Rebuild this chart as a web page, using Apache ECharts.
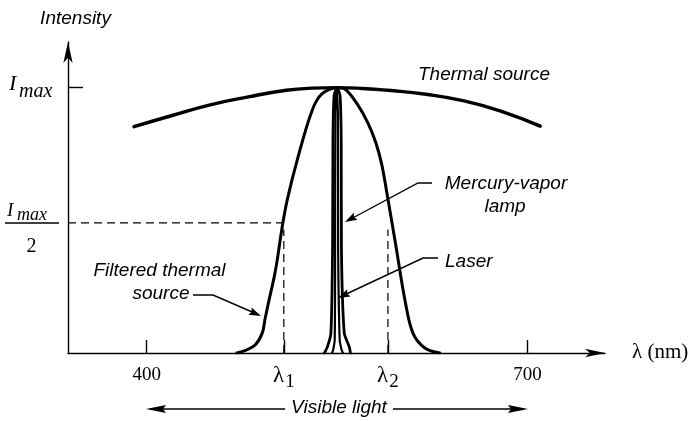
<!DOCTYPE html>
<html><head><meta charset="utf-8">
<script src="https://cdn.jsdelivr.net/npm/echarts@6/dist/echarts.min.js"></script>
<style>html,body{margin:0;padding:0;background:#fff}#c{width:698px;height:421px}</style>
</head><body><div id="c"></div>
<script>
// ---- data (wavelength in nm, intensity as fraction of Imax) ----
const thermalX = [390, 420, 450, 480, 510, 530, 550, 570, 590, 620, 650, 680, 710];
const thermalY = [0.853, 0.895, 0.935, 0.965, 0.99, 0.998, 1.0, 0.997, 0.99, 0.975, 0.95, 0.91, 0.855];

const filteredX = [471, 478, 485.4, 491, 493.3, 496.4, 500.4, 502.8, 506.7, 510.6, 518.5, 530.3, 538.2, 550.5, 556.1, 566.3, 574.2, 580.5, 585.2, 589.2, 596.3, 603.4, 609.7, 619.1, 630.9];
const filteredY = [0, 0.01, 0.03, 0.075, 0.13, 0.2, 0.286, 0.35, 0.474, 0.575, 0.726, 0.914, 0.977, 1.0, 0.995, 0.935, 0.867, 0.792, 0.709, 0.603, 0.403, 0.2, 0.075, 0.019, 0];

const mercuryX = [540, 542.4, 545.1, 546.4, 546.7, 547.6, 549.9, 552.3, 553.2, 553.4, 555.6, 559.5, 560.5];
const mercuryY = [0, 0.024, 0.075, 0.39, 0.8, 0.97, 1.0, 0.97, 0.8, 0.39, 0.075, 0.024, 0];

const laserX = [546, 546.8, 548.1, 548.4, 548.6, 549.6, 550.6, 550.8, 552.0, 553.6, 554.6];
const laserY = [0, 0.01, 0.05, 0.39, 0.9, 1.0, 0.9, 0.39, 0.05, 0.01, 0];

const xTickValues = [400, 508, 590, 700];
const xTickLabels = ['400', 'λ1', 'λ2', '700'];
const lambda1 = 508, lambda2 = 590;
const halfLevel = 0.49, dashTop = 0.465, peakLevel = 1.0;

// ---- chart ----
const chart = echarts.init(document.getElementById('c'), null, {renderer: 'canvas'});
const BLACK = '#000';
const SANS_I = 'italic 19px "Liberation Sans", Arial, sans-serif';

function curve(xs, ys, width, smooth) {
  return {
    type: 'line', data: xs.map((x, i) => [x, ys[i]]), showSymbol: false, symbol: 'none',
    smooth: smooth, silent: true, z: 3,
    lineStyle: {color: BLACK, width: width, cap: 'round', join: 'round'}
  };
}
function dashed(pts) {
  return {
    type: 'line', data: pts, showSymbol: false, symbol: 'none', silent: true, z: 2,
    lineStyle: {color: BLACK, width: 1.2, type: [8, 5]}
  };
}
function head(tip, from, len, hw) {
  const dx = tip[0] - from[0], dy = tip[1] - from[1], d = Math.hypot(dx, dy);
  const ux = dx / d, uy = dy / d;
  const bx = tip[0] - ux * len, by = tip[1] - uy * len;
  const nx = tip[0] - ux * len * 0.85, ny = tip[1] - uy * len * 0.85;
  return {type: 'polygon', z: 100, shape: {points: [tip, [bx - uy * hw, by + ux * hw], [nx, ny], [bx + uy * hw, by - ux * hw]]}, style: {fill: BLACK}};
}
function pline(points) {
  return {type: 'polyline', z: 100, shape: {points: points}, style: {stroke: BLACK, lineWidth: 1.4, fill: null}};
}
function txt(text, x, y, font, align, extra) {
  return {type: 'text', z: 100, style: Object.assign({text: text, x: x, y: y, font: font, fill: BLACK, align: align || 'left', verticalAlign: 'middle'}, extra || {})};
}

const option = {
  backgroundColor: '#fff',
  animation: false,
  grid: {left: 68, top: 42, width: 537, height: 311},
  xAxis: {
    type: 'value', min: 338, max: 761,
    splitLine: {show: false},
    axisLine: {show: true, symbol: ['none', 'arrow'], symbolSize: [6.5, 20], lineStyle: {color: BLACK, width: 1.4}},
    axisTick: {show: true, inside: true, length: 13, customValues: xTickValues, lineStyle: {color: BLACK, width: 1.4}},
    axisLabel: {
      show: true, customValues: xTickValues, margin: 11, color: BLACK,
      formatter: function (v) {
        const i = xTickValues.indexOf(v);
        const t = i >= 0 ? xTickLabels[i] : '';
        if (t.charAt(0) === 'λ') return '{l|λ}{s|' + t.slice(1) + '}';
        return '{n|' + t + '}';
      },
      rich: {
        n: {fontFamily: '"Liberation Serif", serif', fontSize: 19, lineHeight: 20, color: BLACK, verticalAlign: 'top', padding: [2, 0, 0, 0]},
        l: {fontFamily: '"Liberation Serif", serif', fontSize: 23, lineHeight: 22, color: BLACK, verticalAlign: 'top'},
        s: {fontFamily: '"Liberation Serif", serif', fontSize: 19, lineHeight: 20, color: BLACK, verticalAlign: 'top', padding: [9, 0, 0, 1]}
      }
    }
  },
  yAxis: {
    type: 'value', min: 0, max: 1.172,
    splitLine: {show: false},
    axisLine: {show: true, symbol: ['none', 'arrow'], symbolSize: [7, 21], lineStyle: {color: BLACK, width: 1.4}},
    axisTick: {show: true, inside: true, length: 15, customValues: [peakLevel], lineStyle: {color: BLACK, width: 1.4}},
    axisLabel: {show: false}
  },
  series: [
    curve(thermalX, thermalY, 3.4, 0.5),
    curve(filteredX, filteredY, 3, 0.35),
    curve(mercuryX, mercuryY, 2.8, 0.2),
    curve(laserX, laserY, 2.2, 0.2),
    dashed([[338, halfLevel], [lambda1, halfLevel]]),
    dashed([[lambda1, 0], [lambda1, dashTop]]),
    dashed([[lambda2, 0], [lambda2, dashTop]])
  ],
  graphic: [
    txt('Intensity', 75.5, 18.5, SANS_I, 'center'),
    txt('Thermal source', 418, 75, SANS_I),
    txt('Mercury-vapor', 506, 183.5, SANS_I, 'center'),
    txt('lamp', 505, 206.5, SANS_I, 'center'),
    txt('Laser', 445, 261.5, SANS_I),
    txt('Filtered thermal', 159.5, 270.5, SANS_I, 'center'),
    txt('source', 161, 293.5, SANS_I, 'center'),
    // pointers
    pline([[432, 183], [418, 183], [348, 220.5]]), head([345, 222], [418, 183], 12, 4),
    pline([[438, 258], [423, 258], [341, 296.5]]), head([338, 298], [423, 258], 12, 4),
    pline([[193, 295], [213, 295], [258, 314.5]]), head([261, 316], [213, 295], 12, 4),
    // visible light arrow
    {type: 'line', z: 90, shape: {x1: 150, y1: 409, x2: 524, y2: 409}, style: {stroke: BLACK, lineWidth: 1.4}},
    head([146, 409], [528, 409], 20, 4), head([528, 409], [146, 409], 20, 4),
    txt('Visible light', 339, 408, SANS_I, 'center', {backgroundColor: '#fff', padding: [2, 6]}),
    // x-axis title
    txt('λ (nm)', 632, 352, '21px "Liberation Serif", serif'),
    // y labels
    txt('I', 9, 84.6, 'italic 22px "Liberation Serif", serif'),
    txt('max', 19, 91.5, 'italic 20px "Liberation Serif", serif'),
    txt('I', 7, 210.6, 'italic 19px "Liberation Serif", serif'),
    txt('max', 17, 215.5, 'italic 18px "Liberation Serif", serif'),
    {type: 'line', z: 100, shape: {x1: 5, y1: 223, x2: 59, y2: 223}, style: {stroke: BLACK, lineWidth: 1.5}},
    txt('2', 31.5, 246.3, '20px "Liberation Serif", serif', 'center')
  ]
};
chart.setOption(option);
</script>
</body></html>
